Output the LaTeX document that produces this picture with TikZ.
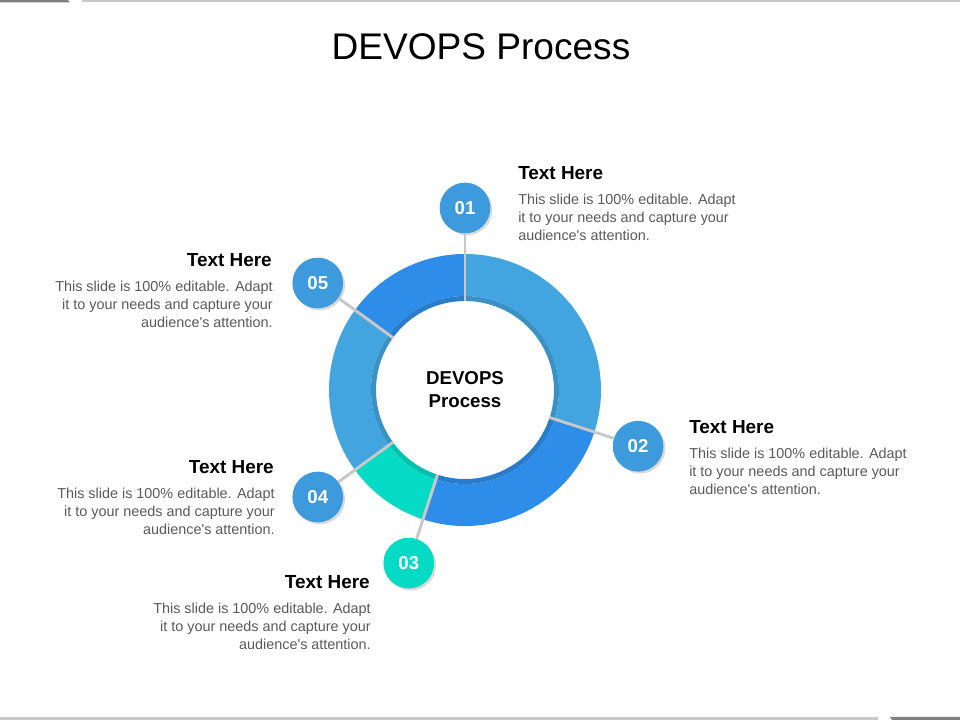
\documentclass[tikz,border=0pt]{standalone}
\usepackage{fontspec}
\setmainfont{Liberation Sans}
\usepackage{tikz}
\usetikzlibrary{positioning,shadows}
\definecolor{ringlight}{HTML}{42A5E0}
\definecolor{ringdark}{HTML}{2E8DE8}
\definecolor{ringteal}{HTML}{04DAC4}
\definecolor{bubblue}{HTML}{3D9ADD}
\definecolor{bodygray}{HTML}{595959}
\definecolor{divgray}{HTML}{C8C8C8}
\newcommand{\blurb}{This slide is 100\% editable. Adapt\\it to your needs and capture your\\audience\textquotesingle s attention.}

\begin{document}
\begin{tikzpicture}[x=0.75pt, y=0.75pt,
    bubble/.style={circle, fill=bubblue, minimum size=38pt, inner sep=0pt, text=white, font=\fontsize{14}{16}\selectfont\bfseries, drop shadow={opacity=0.3, shadow xshift=1.5pt, shadow yshift=-1.5pt}},
    heading/.style={font=\fontsize{14.2}{16}\selectfont\bfseries, inner sep=0pt},
    body/.style={font=\fontsize{10.8}{13.5}\selectfont, text=bodygray, inner sep=0pt},
    divider/.style={divgray, line width=2.2pt}
]
\useasboundingbox (0,0) rectangle (960,720);

% Page edges
\fill[divgray] (82,717.5) rectangle (960,720);
\fill[gray] (0,717.5) -- (70,717.5) -- (68,720) -- (0,720) -- cycle;
\fill[divgray] (0,0) rectangle (878,3);
\fill[gray] (892,0) -- (960,0) -- (960,3) -- (890,3) -- cycle;

% Title
\node[font=\fontsize{27.8}{32}\selectfont] (title) at (481,673) {DEVOPS Process};

\coordinate (ctr) at (465,330);

\begin{scope}[shift={(ctr)}]
% Ring
\foreach \a/\b/\c in {90/-18/ringlight, -18/-108/ringdark, -108/-144/ringteal, -144/-216/ringlight, 144/90/ringdark} {
    \fill[\c] (\a:136) arc[start angle=\a, end angle=\b, radius=136] -- (\b:94) arc[start angle=\b, end angle=\a, radius=94] -- cycle;
    \fill[\c!88!black] (\a:94) arc[start angle=\a, end angle=\b, radius=94] -- (\b:89) arc[start angle=\b, end angle=\a, radius=89] -- cycle;
}

% Bubbles
\foreach \k/\a in {1/90, 2/-18, 3/-108, 4/-144, 5/144} {
    \coordinate (i\k) at (\a:89);
}
\node[bubble] (n1) at (90:182) {01};
\node[bubble] (n2) at (-18:182) {02};
\node[bubble, fill=ringteal] (n3) at (-108:182) {03};
\node[bubble] (n4) at (-144:182) {04};
\node[bubble] (n5) at (144:182) {05};
\end{scope}

\foreach \k in {1,...,5} {
    \draw[divider] (i\k) -- (n\k);
}

% Center
\node[font=\fontsize{14}{17.25}\selectfont\bfseries, align=center] (mid) at (ctr) {DEVOPS\\Process};

% Right side texts
\node[heading, anchor=west] (h1) at (518,547) {Text Here};
\node[body, anchor=west, align=left] (t1) at (518,503) {\blurb};
\node[heading, anchor=west] (h2) at (689,293) {Text Here};
\node[body, anchor=west, align=left] (t2) at (689,249) {\blurb};

% Left side texts
\node[heading, anchor=east] (h5) at (272,460) {Text Here};
\node[body, anchor=east, align=right] (t5) at (273,416) {\blurb};
\node[heading, anchor=east] (h4) at (274,253) {Text Here};
\node[body, anchor=east, align=right] (t4) at (275,209) {\blurb};
\node[heading, anchor=east] (h3) at (370,138) {Text Here};
\node[body, anchor=east, align=right] (t3) at (371,94) {\blurb};

\end{tikzpicture}
\end{document}
